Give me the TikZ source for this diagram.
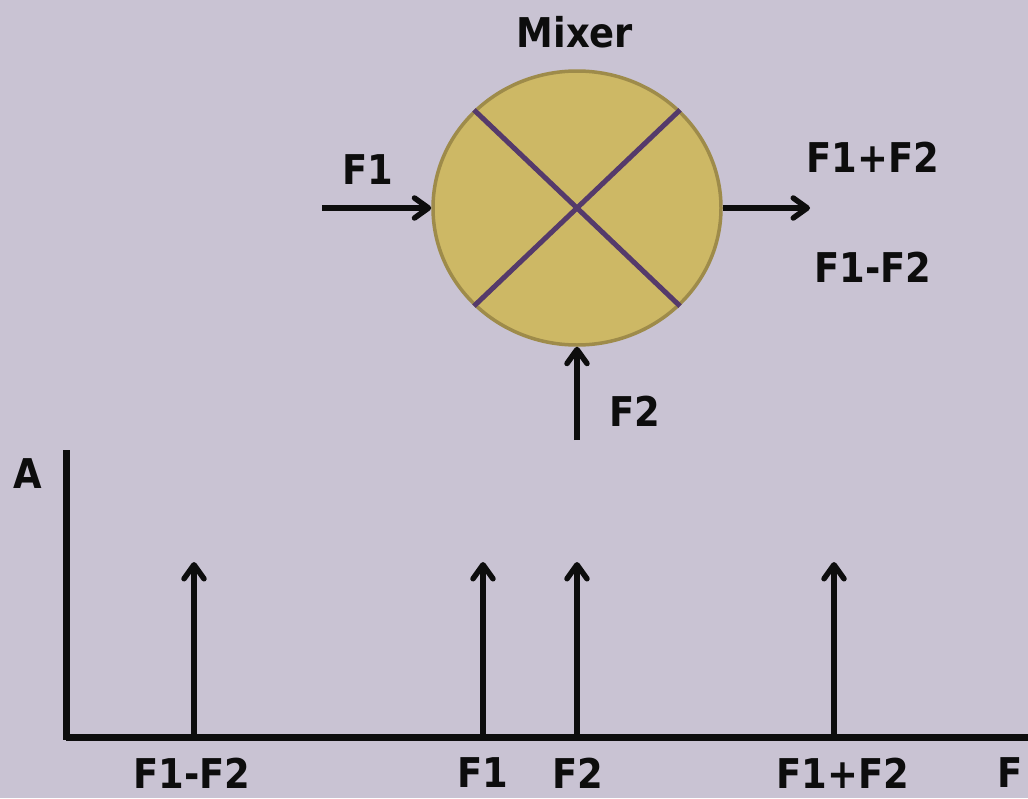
\documentclass[tikz,border=0pt]{standalone}
\usepackage{fontspec}
\setmainfont{DejaVu Sans}[FakeStretch=0.9]
\usetikzlibrary{shapes.geometric,arrows.meta}
\definecolor{bgc}{HTML}{C9C3D3}
\definecolor{mixfill}{HTML}{CDB865}
\definecolor{mixdraw}{HTML}{9E8B4A}
\definecolor{crossc}{HTML}{553A6B}
\definecolor{ink}{HTML}{0D0D0D}
\tikzset{
  lbl/.style={font=\fontsize{41}{44}\selectfont\bfseries, text=ink, inner sep=0pt},
  sig/.style={draw=ink, line width=5.5pt, -{Straight Barb[length=14pt,width=20pt,line cap=round,line join=round]}},
  axisline/.style={draw=ink, line width=7pt},
  crossline/.style={draw=crossc, line width=5pt},
}
\begin{document}
\begin{tikzpicture}[x=1pt,y=-1pt]
\fill[bgc] (0,0) rectangle (1028,798);
\useasboundingbox (0,0) rectangle (1028,798);
% mixer
\node[ellipse, draw=mixdraw, fill=mixfill, line width=3.5pt, minimum width=288pt, minimum height=274pt, inner sep=0pt] (mixer) at (577,208) {};
\draw[crossline] (mixer.north west) -- (mixer.south east);
\draw[crossline] (mixer.north east) -- (mixer.south west);
\node[lbl] (mixlbl) at (575,32) {Mixer};
% inputs/outputs
\coordinate (f1in) at (322,208);
\coordinate (out) at (810,208);
\coordinate (f2in) at (577,440);
\draw[sig] (f1in) -- (mixer.west);
\draw[sig] (mixer.east) -- (out);
\draw[sig] (f2in) -- (mixer.south);
\node[lbl] (lf1) at (368,170) {F1};
\node[lbl] (lsum) at (873,157) {F1+F2};
\node[lbl] (ldiff) at (873,267) {F1-F2};
\node[lbl] (lf2) at (635,411) {F2};
% axes
\coordinate (orig) at (66,737);
\coordinate (ytop) at (66,450);
\coordinate (xend) at (1028,737);
\draw[axisline] (ytop) -- (orig |- 0,740);
\draw[axisline] (orig) -- (xend);
\node[lbl] (la) at (28,474) {A};
\node[lbl] (lfx) at (1010,773) {F};
% spikes
\foreach \n/\x/\t/\lx in {d/194/F1-F2/192, a/483/F1/483, b/577/F2/578, s/834/F1+F2/843}{
  \coordinate (base\n) at (\x,735);
  \coordinate (top\n) at (\x,562);
  \draw[sig] (base\n) -- (top\n);
  \node[lbl] (lab\n) at (\lx,773) {\t};
}
\end{tikzpicture}
\end{document}
